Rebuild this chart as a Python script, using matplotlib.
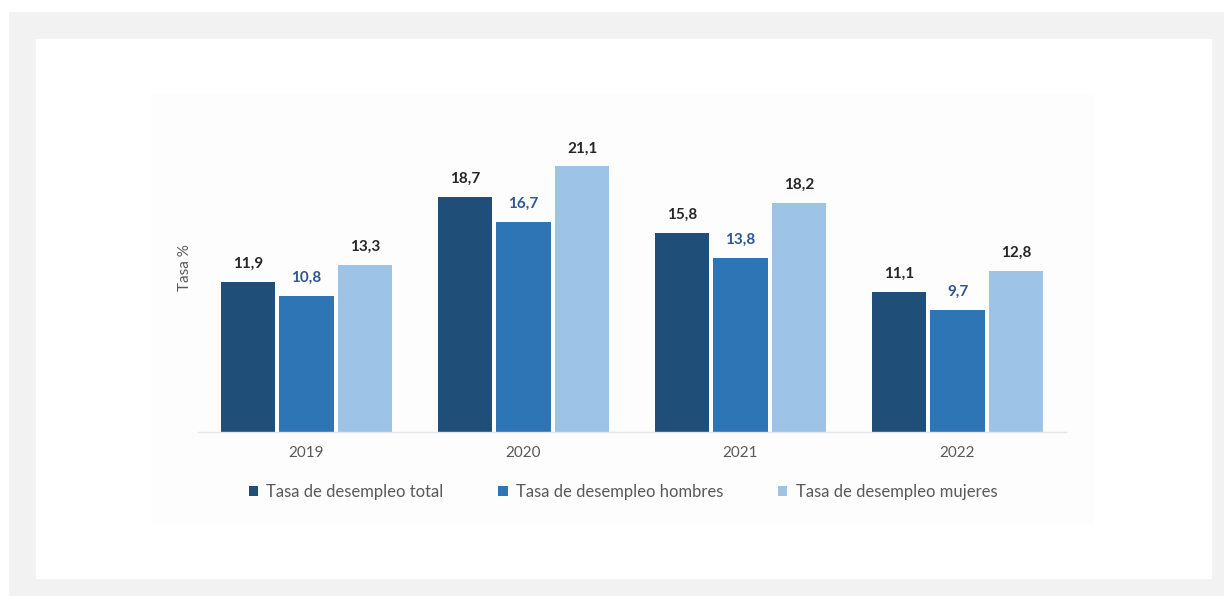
import matplotlib.pyplot as plt
import numpy as np
from matplotlib.patches import Rectangle

years = ["2019", "2020", "2021", "2022"]
series_names = [
    "Tasa de desempleo total",
    "Tasa de desempleo hombres",
    "Tasa de desempleo mujeres",
]
total = [11.9, 18.7, 15.8, 11.1]
hombres = [10.8, 16.7, 13.8, 9.7]
mujeres = [13.3, 21.1, 18.2, 12.8]

colors = ["#1f4e79", "#2e75b6", "#9dc3e6"]
label_colors = ["#262626", "#2f5597", "#262626"]

plt.rcParams["font.family"] = ["Liberation Sans Narrow", "Lato", "DejaVu Sans"]

W, H = 1224, 596
fig = plt.figure(figsize=(W / 100, H / 100), dpi=100)
fig.patch.set_facecolor("white")


def px_rect(x0, y0, x1, y1, color):
    # rectangle given in pixel coords from the top-left corner
    fig.patches.append(
        Rectangle(
            (x0 / W, 1 - y1 / H),
            (x1 - x0) / W,
            (y1 - y0) / H,
            transform=fig.transFigure,
            facecolor=color,
            edgecolor="none",
            zorder=-10,
        )
    )


px_rect(9, 12, W, H, "#f2f2f2")
px_rect(36, 39, 1212, 579, "white")
px_rect(151, 94, 1094, 524, "#fdfdfd")

ax = fig.add_axes([198 / W, (H - 432) / H, 868 / W, 302 / H])
ax.set_facecolor("none")

x = np.arange(len(years))
width = 0.25
offset = 0.27
for i, (vals, c, lc) in enumerate(zip([total, hombres, mujeres], colors, label_colors)):
    bars = ax.bar(x + (i - 1) * offset, vals, width, color=c, label=series_names[i])
    for b, v in zip(bars, vals):
        ax.annotate(
            f"{v:.1f}".replace(".", ","),
            (b.get_x() + b.get_width() / 2, v),
            xytext=(0, 8),
            textcoords="offset points",
            ha="center",
            va="bottom",
            fontsize=11,
            fontweight="bold",
            color=lc,
        )

ax.set_xlim(-0.5, 3.5)
ax.set_ylim(0, 24)
ax.set_xticks(x)
ax.set_xticklabels(years, fontsize=11, color="#595959")
ax.tick_params(axis="x", length=0, pad=10)
ax.set_yticks([])
for s in ["top", "right", "left"]:
    ax.spines[s].set_visible(False)
ax.spines["bottom"].set_color("#e6e6e6")
ax.spines["bottom"].set_linewidth(1)

fig.text(185 / W, 1 - 268 / H, "Tasa %", rotation=90, ha="center", va="center",
         fontsize=11, color="#595959")

leg = ax.legend(
    loc="center",
    bbox_to_anchor=(623 / W, 1 - 492 / H),
    bbox_transform=fig.transFigure,
    ncol=3,
    frameon=False,
    fontsize=12,
    handlelength=0.55,
    handleheight=0.55,
    handletextpad=0.5,
    columnspacing=3.3,
)
for t in leg.get_texts():
    t.set_color("#595959")

fig.savefig("out.png", dpi=100)
